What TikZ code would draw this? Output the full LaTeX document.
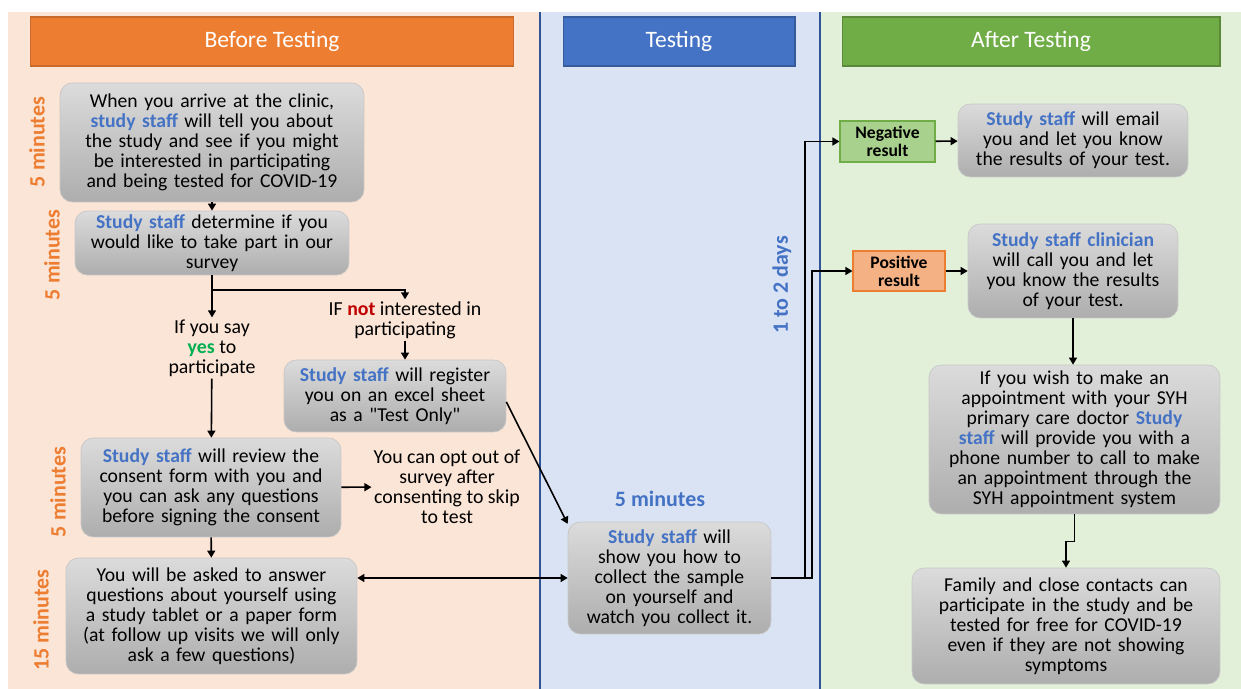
\documentclass[tikz,border=0pt]{standalone}
\usepackage{xcolor}
\usepackage{fontspec}
\setmainfont{Carlito}[Ligatures = TeXOff]
\usepackage{tikz}
\usetikzlibrary{arrows}
\usetikzlibrary{arrows.meta}
\usetikzlibrary{positioning, shapes.geometric, shapes.misc, backgrounds}
\definecolor{beforebg}{HTML}{FBE5D6}
\definecolor{testbg}{HTML}{DAE3F3}
\definecolor{afterbg}{HTML}{E2F0D9}
\definecolor{beforehead}{HTML}{ED7D31}
\definecolor{testhead}{HTML}{4472C4}
\definecolor{afterhead}{HTML}{70AD47}
\definecolor{staffblue}{HTML}{4472C4}
\definecolor{notred}{HTML}{C00000}
\definecolor{yesgreen}{HTML}{00B050}
\definecolor{divider}{HTML}{2F5597}
\definecolor{negfill}{HTML}{A9D18E}
\definecolor{posfill}{HTML}{F4B183}
\newcommand{\staff}[1]{\textcolor{staffblue}{\textbf{#1}}}
\tikzset{ 
stage box/.style = { rectangle, draw = black!22, top color = black!14, bottom color = black!32, rounded corners = 7pt, align = center, inner sep = 0pt, font = \fontsize{11.2}{11.4}\selectfont },
plain text/.style = { align = center, inner sep = 1pt, font = \fontsize{11.3}{11.4}\selectfont },
result box/.style = { rectangle, align = center, inner sep = 0pt, line width = 0.6pt, font = \fontsize{10}{10.2}\selectfont\bfseries },
head box/.style = { rectangle, text = white, minimum height = 0.98cm, line width = 0.6pt, font = \fontsize{13.4}{15}\selectfont },
time label/.style = { rotate = 90, inner sep = 0pt, font = \fontsize{12.5}{13}\selectfont\bfseries },
flow/.style = { draw = black, line width = 0.9pt, -{Triangle[width = 4.5pt, length = 4pt]} },
}

\begin{document}
\begin{tikzpicture}[x = 0.02cm, y = -0.02cm]
    \useasboundingbox (0, 0) rectangle (1241, 689);
    % swim lanes
    \path[fill = beforebg] (8, 12) rectangle (540, 689);
    \path[fill = testbg] (540, 12) rectangle (820, 689);
    \path[fill = afterbg] (820, 12) rectangle (1241, 689);
    \path[draw = divider, line width = 0.6pt] (540, 12) -- (540, 689);
    \path[draw = divider, line width = 0.6pt] (820, 12) -- (820, 689);
    \node[head box, fill = beforehead, draw = beforehead!85!black, minimum width = 9.68cm] (before) at (272, 41.5) {Before Testing};
    \node[head box, fill = testhead, draw = testhead!80!black, minimum width = 4.64cm] (testing) at (679, 41.5) {Testing};
    \node[head box, fill = afterhead, draw = afterhead!80!black, minimum width = 7.56cm] (after) at (1031, 41.5) {After Testing};
    % time labels
    \node[time label, text = beforehead] (t1) at (37, 142) {5 minutes};
    \node[time label, text = beforehead] (t2) at (52, 255) {5 minutes};
    \node[time label, text = beforehead] (t3) at (58, 492) {5 minutes};
    \node[time label, text = beforehead] (t4) at (41, 620) {15 minutes};
    \node[time label, text = staffblue] (t5) at (782, 285) {1 to 2 days};
    \node[inner sep = 0pt, text = staffblue, font = \fontsize{12.5}{13}\selectfont\bfseries] (t6) at (660, 499) {5 minutes};
    % before testing
    \node[stage box, text width = 6.08cm, minimum height = 2.38cm] (arrive) at (212, 142.5) {When you arrive at the clinic,\\ \staff{study staff} will tell you about\\ the study and see if you might\\ be interested in participating\\ and being tested for COVID-19};
    \node[stage box, text width = 5.48cm, minimum height = 1.28cm] (survey) at (212, 243) {\staff{Study staff} determine if you\\ would like to take part in our\\ survey};
    \node[plain text] (notint) at (405, 320) {IF \textcolor{notred}{\textbf{not}} interested in\\ participating};
    \node[plain text] (yes) at (212, 348) {If you say\\ \textcolor{yesgreen}{\textbf{yes}} to\\ participate};
    \node[stage box, text width = 4.44cm, minimum height = 1.44cm] (register) at (395, 396) {\staff{Study staff} will register\\ you on an excel sheet\\ as a "Test Only"};
    \node[stage box, text width = 5.2cm, minimum height = 1.98cm] (consent) at (211, 487.5) {\staff{Study staff} will review the\\ consent form with you and\\ you can ask any questions\\ before signing the consent};
    \node[plain text] (optout) at (447, 487) {You can opt out of\\ survey after\\ consenting to skip\\ to test};
    \node[stage box, text width = 5.82cm, minimum height = 2.32cm] (questions) at (211.5, 616) {You will be asked to answer\\ questions about yourself using\\ a study tablet or a paper form\\ (at follow up visits we will only\\ ask a few questions)};
    % testing
    \node[stage box, text width = 4.06cm, minimum height = 2.24cm] (sample) at (669.5, 578) {\staff{Study staff} will\\ show you how to\\ collect the sample\\ on yourself and\\ watch you collect it.};
    % after testing
    \node[result box, fill = negfill, draw = afterhead, minimum width = 1.9cm, minimum height = 0.82cm] (neg) at (887.5, 141.5) {Negative\\ result};
    \node[result box, fill = posfill, draw = beforehead, minimum width = 1.84cm, minimum height = 0.8cm] (pos) at (899, 271) {Positive\\ result};
    \node[stage box, text width = 4.6cm, minimum height = 1.46cm] (email) at (1073, 140.5) {\staff{Study staff} will email\\ you and let you know\\ the results of your test.};
    \node[stage box, text width = 4.2cm, minimum height = 1.88cm] (call) at (1073, 271) {\staff{Study staff clinician}\\ will call you and let\\ you know the results\\ of your test.};
    \node[stage box, text width = 5.82cm, minimum height = 2.98cm] (doctor) at (1074.5, 439.5) {If you wish to make an\\ appointment with your SYH\\ primary care doctor \staff{Study}\\ \staff{staff} will provide you with a\\ phone number to call to make\\ an appointment through the\\ SYH appointment system};
    \node[stage box, text width = 6.16cm, minimum height = 2.32cm] (family) at (1066, 626) {Family and close contacts can\\ participate in the study and be\\ tested for free for COVID-19\\ even if they are not showing\\ symptoms};
    % connectors
    \coordinate (split) at (212, 290);
    \coordinate (busneg) at (805, 0);
    \coordinate (buspos) at (812, 0);
    \path[flow] (arrive) -- (survey);
    \path[flow] (survey) -- (yes);
    \path[flow] (split) -| (notint.north);
    \path[flow] (notint.south) -- (notint.south |- register.north);
    \path[flow] (yes) -- (consent);
    \path[flow] (consent) -- (optout);
    \path[flow] (consent) -- (questions);
    \path[flow, {Triangle[width = 4.5pt, length = 4pt]}-{Triangle[width = 4.5pt, length = 4pt]}] (sample.west -| questions.east) -- (sample.west);
    \path[flow] (register.-3) -- (sample.152);
    \path[flow] (sample.east) -- (sample.east -| busneg) |- (neg.west);
    \path[flow] (sample.east) -- (sample.east -| buspos) |- (pos.west);
    \path[flow] (neg) -- (email);
    \path[flow] (pos) -- (call);
    \path[flow] (call.south) -- (call.south |- doctor.north);
    \path[flow] (doctor.south) -- ++(0, 27) -| (family.north);
  \end{tikzpicture}
\end{document}
